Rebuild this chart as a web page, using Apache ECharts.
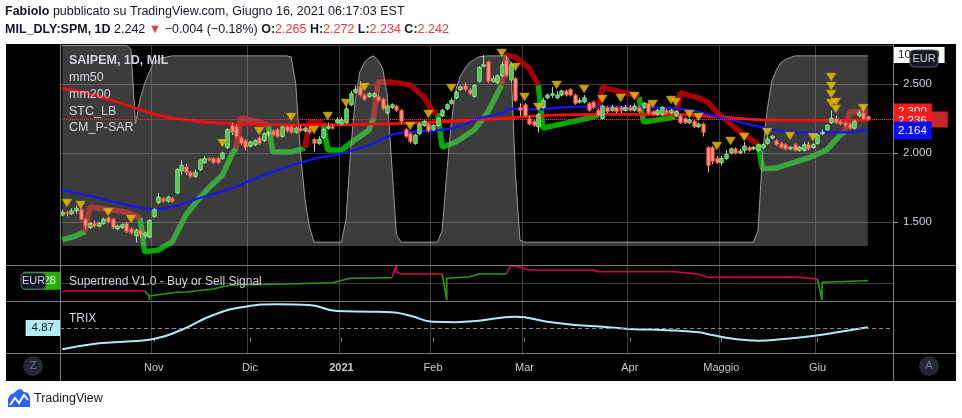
<!DOCTYPE html>
<html><head><meta charset="utf-8">
<script src="https://cdn.jsdelivr.net/npm/echarts@6/dist/echarts.min.js"></script>
<style>html,body{margin:0;padding:0;background:#fff;}#c{width:962px;height:418px;}</style>
</head><body><div id="c"></div>
<script>
// ---------- categories (trading days) ----------
const holidays = ['2020-12-24','2020-12-25','2020-12-31','2021-01-01','2021-04-02','2021-04-05'];
const firstDay = '2020-10-05', lastDay = '2021-06-23';
const monthNames = {'2020-11':'Nov','2020-12':'Dic','2021-01':'2021','2021-02':'Feb','2021-03':'Mar','2021-04':'Apr','2021-05':'Maggio','2021-06':'Giu'};

// ---------- OHLC [open, close, low, high] ----------
const octBars = [[1.55,1.57,1.54,1.59],[1.57,1.56,1.54,1.58],[1.56,1.58,1.55,1.60],[1.58,1.60,1.56,1.62],[1.59,1.52,1.51,1.61],
[1.52,1.47,1.45,1.53],[1.46,1.49,1.45,1.50],[1.49,1.47,1.46,1.51],[1.47,1.49,1.46,1.50],[1.49,1.52,1.48,1.53],
[1.53,1.50,1.49,1.54],[1.52,1.46,1.45,1.53],[1.45,1.47,1.44,1.48],[1.46,1.48,1.45,1.49],[1.49,1.43,1.42,1.50],
[1.45,1.42,1.41,1.46],[1.40,1.44,1.35,1.45],[1.44,1.41,1.39,1.45],[1.40,1.42,1.38,1.43],[1.39,1.51,1.38,1.52]];
const novBars = [[1.54,1.59,1.53,1.60],[1.64,1.68,1.63,1.71],[1.67,1.65,1.64,1.68],[1.65,1.68,1.64,1.69],[1.67,1.65,1.64,1.68],
[1.71,1.88,1.70,1.89],[1.87,1.91,1.84,1.95],[1.90,1.86,1.84,1.92],[1.86,1.83,1.82,1.87],[1.83,1.86,1.82,1.88],
[1.88,1.95,1.87,1.96],[1.93,1.96,1.92,1.98],[1.96,1.95,1.94,1.97],[1.96,1.93,1.92,1.97],[1.96,1.93,1.92,1.97],
[1.96,2.00,1.95,2.01],[2.04,2.17,2.03,2.18],[2.20,2.15,2.13,2.22],[2.19,2.12,2.11,2.21],[2.11,2.07,2.06,2.12],[2.09,2.04,2.02,2.10]];
const decBars = [[2.05,2.08,2.04,2.09],[2.06,2.09,2.05,2.10],[2.11,2.07,2.06,2.12],[2.09,2.14,2.08,2.15],[2.14,2.15,2.12,2.16],
[2.16,2.13,2.12,2.17],[2.17,2.12,2.11,2.18],[2.12,2.19,2.11,2.20],[2.19,2.16,2.15,2.20],[2.19,2.15,2.14,2.20],
[2.15,2.18,2.14,2.19],[2.18,2.16,2.15,2.20],[2.16,2.18,2.15,2.19],[2.17,2.15,2.14,2.19],[2.10,2.07,2.01,2.11],
[2.07,2.10,2.06,2.12],[2.11,2.17,2.10,2.18],[2.18,2.19,2.17,2.22],[2.19,2.18,2.17,2.21],[2.22,2.24,2.21,2.26]];
const janBars = [[2.21,2.24,2.20,2.26],[2.22,2.32,2.21,2.34],[2.35,2.43,2.34,2.45],[2.44,2.46,2.43,2.49],[2.48,2.42,2.41,2.52],
[2.42,2.39,2.38,2.43],[2.41,2.43,2.40,2.44],[2.41,2.43,2.40,2.44],[2.41,2.38,2.37,2.42],[2.39,2.32,2.31,2.40],
[2.29,2.34,2.28,2.35],[2.33,2.35,2.32,2.36],[2.34,2.31,2.30,2.35],[2.31,2.23,2.21,2.32],[2.17,2.12,2.11,2.18],
[2.14,2.08,2.07,2.15],[2.07,2.13,2.06,2.14],[2.14,2.21,2.13,2.22],[2.20,2.23,2.19,2.24],[2.21,2.16,2.15,2.22]];
const febBars = [[2.17,2.20,2.16,2.21],[2.20,2.25,2.19,2.26],[2.27,2.31,2.26,2.32],[2.32,2.35,2.31,2.36],[2.36,2.38,2.35,2.40],
[2.40,2.44,2.39,2.45],[2.46,2.48,2.45,2.49],[2.49,2.46,2.45,2.51],[2.46,2.43,2.42,2.47],[2.41,2.49,2.40,2.50],
[2.52,2.62,2.51,2.63],[2.63,2.64,2.62,2.71],[2.66,2.52,2.51,2.67],[2.52,2.54,2.51,2.56],[2.51,2.56,2.50,2.57],
[2.56,2.64,2.55,2.66],[2.67,2.56,2.55,2.70],[2.53,2.64,2.52,2.66],[2.54,2.38,2.37,2.55],[2.33,2.31,2.27,2.36]];
const marBars = [[2.35,2.27,2.26,2.36],[2.25,2.21,2.20,2.27],[2.23,2.20,2.19,2.24],[2.19,2.28,2.15,2.29],[2.33,2.38,2.32,2.40],
[2.40,2.42,2.39,2.43],[2.42,2.43,2.40,2.48],[2.40,2.42,2.39,2.45],[2.42,2.45,2.41,2.46],[2.45,2.42,2.41,2.46],
[2.46,2.42,2.41,2.47],[2.42,2.36,2.35,2.43],[2.37,2.38,2.36,2.40],[2.37,2.40,2.36,2.42],[2.36,2.31,2.30,2.37],
[2.37,2.33,2.32,2.38],[2.31,2.27,2.26,2.32],[2.25,2.34,2.24,2.35],[2.33,2.30,2.29,2.34],[2.31,2.33,2.30,2.35],
[2.33,2.30,2.29,2.34],[2.33,2.31,2.29,2.34],[2.31,2.33,2.30,2.35]];
const aprBars = [[2.33,2.31,2.30,2.35],[2.31,2.34,2.30,2.36],[2.33,2.30,2.29,2.34],[2.33,2.36,2.32,2.37],[2.36,2.29,2.28,2.37],
[2.30,2.28,2.27,2.31],[2.28,2.31,2.27,2.32],[2.28,2.33,2.27,2.34],[2.31,2.29,2.28,2.32],[2.29,2.31,2.28,2.32],
[2.27,2.30,2.26,2.31],[2.27,2.22,2.21,2.28],[2.25,2.22,2.21,2.26],[2.22,2.24,2.21,2.25],[2.23,2.19,2.18,2.24],
[2.19,2.21,2.18,2.22],[2.21,2.15,2.12,2.22],[2.04,1.91,1.86,2.05],[2.04,1.94,1.92,2.05],[1.96,1.93,1.92,1.98]];
const mayBars = [[1.93,1.96,1.91,1.98],[1.96,1.99,1.95,2.02],[2.00,2.03,1.99,2.04],[2.03,2.00,1.99,2.04],[2.008,2.012,1.99,2.03],
[2.02,2.05,2.00,2.08],[2.04,2.02,2.01,2.05],[2.03,2.04,2.02,2.05],[2.02,2.06,2.01,2.07],[2.04,2.06,2.03,2.07],
[2.07,2.10,2.06,2.12],[2.11,2.12,2.10,2.13],[2.09,2.06,2.05,2.10],[2.07,2.04,2.03,2.08],[2.06,2.03,2.02,2.07],
[2.03,2.04,2.02,2.05],[2.06,2.02,2.01,2.07],[2.02,2.04,2.01,2.05],[2.02,2.06,2.01,2.08],[2.06,2.03,2.02,2.08],[2.04,2.06,2.03,2.07]];
const junBars = [[2.07,2.13,2.06,2.14],[2.14,2.15,2.13,2.17],[2.17,2.20,2.16,2.21],[2.22,2.25,2.21,2.31],[2.25,2.22,2.21,2.27],
[2.23,2.21,2.20,2.24],[2.22,2.20,2.19,2.23],[2.21,2.18,2.17,2.22],[2.18,2.23,2.17,2.24],[2.27,2.29,2.26,2.31],
[2.29,2.246,2.24,2.31],[2.265,2.242,2.234,2.272]];

// ---------- overlays: [barIndex, value] ----------
const mm50 = [[0,1.732],[7,1.681],[14,1.623],[20,1.594],[24,1.609],[30,1.674],[36,1.732],[43,1.826],[54,1.949],[61,1.998],[67,2.058],[72,2.130],[74,2.147],[83,2.167],[87,2.196],[91,2.251],[96,2.288],[98,2.322],[100,2.317],[104,2.317],[109,2.331],[117,2.337],[128,2.331],[136,2.317],[139,2.299],[143,2.263],[147,2.232],[154,2.179],[161,2.147],[168,2.147],[176,2.164]];
const mm200 = [[0,2.469],[7,2.420],[14,2.348],[21,2.275],[29,2.232],[36,2.215],[43,2.208],[54,2.203],[74,2.215],[96,2.251],[107,2.275],[117,2.280],[132,2.280],[143,2.263],[154,2.239],[165,2.236],[176,2.236]];
const stcLB = [[0,105],[14,105],[15,103],[16,64],[17,77],[18,85],[19,91],[20,96],[21,97.5],[22,98.5],[24,99.5],[49,99.5],[50,99],[51,85],[52,50],[53,25],[54,10],[55,2],[61,2],[62,14],[63,50],[64,76],[65,91],[66,96],[67,98.5],[68,99.5],[69,97],[70,93],[71,79],[72,42],[73,6],[74,2],[82,2],[83,8],[84,38],[85,65],[86,82],[87,89],[88,93],[89,96],[90,97.5],[91,99],[93,99.5],[97,99.5],[98,96],[99,38],[100,3],[101,2],[151,2],[152,8],[153,48],[154,71],[155,86],[156,92],[157,96],[158,97.5],[159,98.5],[160,99.5],[176,99.5]];
const sarUp = [
 [[0,1.37],[3,1.40],[5,1.43]],
 [[17,1.53],[18,1.283],[21,1.297],[24,1.355],[27,1.551],[30,1.674],[32,1.746],[35,1.841],[37,1.986],[38,2.036]],
 [[45,2.203],[46,2.007],[50,2.007],[53,2.036]],
 [[57,2.217],[58,2.022],[61,2.022],[63,2.072],[67,2.167],[68,2.254]],
 [[82,2.29],[83,2.043],[86,2.08],[90,2.167],[93,2.297],[96,2.493]],
 [[104,2.493],[105,2.181],[110,2.217],[115,2.254],[117,2.275]],
 [[126,2.406],[127,2.225],[134,2.261]],
 [[152,2.065],[153,1.885],[156,1.891],[163,1.964],[167,2.022],[170,2.13],[171,2.152]]];
const sarDown = [
 [[5,1.43],[6,1.609],[10,1.59],[14,1.572],[17,1.53]],
 [[38,2.036],[39,2.254],[43,2.225],[45,2.203]],
 [[53,2.036],[54,2.225],[57,2.217]],
 [[68,2.254],[69,2.514],[72,2.514],[76,2.493],[79,2.406],[81,2.297],[82,2.29]],
 [[96,2.493],[97,2.71],[99,2.696],[102,2.616],[104,2.493]],
 [[117,2.275],[118,2.478],[125,2.42],[126,2.406]],
 [[134,2.261],[135,2.435],[139,2.399],[141,2.37],[143,2.297],[147,2.181],[150,2.109],[152,2.065]],
 [[171,2.152],[172,2.297],[176,2.300]]];
const signals = [[1,1.638],[4,1.623],[10,1.572],[15,1.522],[35,2.072],[43,2.159],[50,2.261],[55,2.167],[58,2.268],[62,2.362],[66,2.478],[76,2.196],[80,2.283],[85,2.471],[96,2.725],[99,2.623],[101,2.406],[104,2.333],[108,2.493],[114,2.464],[118,2.391],[122,2.399],[125,2.413],[129,2.355],[133,2.384],[134,2.37],[137,2.283],[139,2.261],[143,2.051],[146,2.087],[149,2.116],[154,2.152],[159,2.123],[164,2.116],[168,2.551],[168,2.486],[168,2.428],[168,2.362],[169,2.37],[169,2.319],[175,2.326]];
const stUp = [
 [[18,1.556],[19,1.278],[19,1.056],[19,1.278],[25,1.483],[27,1.50],[33,1.667],[35,1.794],[37,1.889],[49,1.944],[59,2.017],[62,2.206],[63,2.261],[72,2.294]],
 [[83,2.5],[84,1.056],[84,2.261],[89,2.35],[91,2.5],[97,2.5]],
 [[165,2.222],[166,1.056],[166,2.039],[176,2.128]]];
const stDown = [
 [[0,1.556],[18,1.556]],
 [[72,2.294],[73,2.98],[73,2.628],[74,2.5],[83,2.5]],
 [[97,2.5],[98,2.98],[98,2.906],[100,2.872],[102,2.722],[116,2.722],[117,2.628],[134,2.628],[139,2.483],[141,2.317],[160,2.333],[165,2.222]]];
const trix = [[0,-5.78],[8,-2.78],[14,-1.88],[20,-0.63],[26,3.87],[33,11.37],[40,15.52],[47,16.72],[54,16.37],[60,13.37],[67,13.02],[72,12.72],[76,11.0],[81,8.02],[86,7.8],[91,8.52],[99,10.52],[106,8.02],[112,6.37],[118,5.52],[124,4.37],[132,3.8],[139,2.72],[142,1.37],[147,-0.63],[152,-1.48],[157,-0.78],[164,0.87],[170,3.02],[176,5.3]];
const trixLevel = 4.87;

// ---------- build ----------
function tradingDays(a, b) {
  const out = []; const d = new Date(a + 'T12:00:00Z'); const end = new Date(b + 'T12:00:00Z');
  while (d <= end) { const wd = d.getUTCDay(); const s = d.toISOString().slice(0, 10);
    if (wd !== 0 && wd !== 6 && !holidays.includes(s)) out.push(s); d.setUTCDate(d.getUTCDate() + 1); }
  return out;
}
const cats = tradingDays(firstDay, lastDay);
const candles = [...octBars, ...novBars, ...decBars, ...janBars, ...febBars, ...marBars, ...aprBars, ...mayBars, ...junBars];
const monthStarts = new Set();
cats.forEach((d, i) => { if (i > 0 && d.slice(0,7) !== cats[i-1].slice(0,7) && monthNames[d.slice(0,7)]) monthStarts.add(i); });
const isM = (i) => monthStarts.has(i);
const FF = 'Liberation Sans';
const GRID = '#3f3f3f';
const HIDE = { color:'rgba(0,0,0,0)', width:0 };

function xAx(gi, lab) {
  return { type:'category', gridIndex:gi, data:cats, boundaryGap:true,
    axisLine:{show:false},
    axisTick:{show:lab, interval:isM, alignWithLabel:true, length:4, lineStyle:{color:'#8a8a8a'}},
    axisLabel:{show:lab, interval:isM, color:'#c8cad0', fontSize:11, fontFamily:FF, margin:9,
      formatter:(v)=>{ const m=v.slice(0,7); return m.endsWith('-01') ? '{y|'+monthNames[m]+'}' : monthNames[m]; },
      rich:{y:{fontWeight:'bold', color:'#c8cad0', fontSize:11, fontFamily:FF}}},
    splitLine:{show:true, interval:isM, lineStyle:{color:GRID, width:1}} };
}
function lineS(data, color, width, xi, yi, z, extra) {
  return Object.assign({ type:'line', data, xAxisIndex:xi, yAxisIndex:yi, showSymbol:false, symbol:'none',
    lineStyle:{color, width}, z, silent:true, animation:false }, extra || {});
}
const f3 = (p) => Number(p.value).toFixed(3);
const rLab = (bg, extraPad) => ({ show:true, position:'end', distance:0, formatter:f3, color:'#fff', backgroundColor:bg,
  padding:[2, 5 + (extraPad||0), 2, 5], fontSize:11.5, fontFamily:FF, lineHeight:12 });
const mk = (data) => ({ symbol:['none','none'], silent:true, animation:false, precision:3, data });

const series = [];
sarUp.forEach(seg => series.push(lineS(seg, '#00a800', 5.5, 0, 0, 2)));
sarDown.forEach((seg, k) => {
  const s = lineS(seg, '#a80000', 5.5, 0, 0, 2);
  if (k === sarDown.length - 1) {
    const last = candles[candles.length-1];
    s.markLine = mk([
      { yAxis: seg[seg.length-1][1], lineStyle:HIDE, label: rLab('#ff1a1a') },
      { yAxis: last[1], lineStyle:{type:'dotted', color:'#ff2a2a', width:1}, label: rLab('#c62828', 16) } ]);
  }
  series.push(s);
});
series.push(lineS(stcLB, '#9a9a9a', 1, 0, 1, 3, {
  areaStyle:{color:'rgba(160,160,160,0.53)'},
  markLine: mk([{yAxis:100, lineStyle:HIDE,
    label:{show:true, position:'end', distance:0, formatter:f3, color:'#131722', backgroundColor:'#ffffff', padding:[2,5,2,5], fontSize:11.5, fontFamily:FF, lineHeight:12}}]) }));
series.push(lineS(mm200, '#ff0a0a', 2.8, 0, 0, 4, { smooth:true,
  markLine: mk([{yAxis: mm200[mm200.length-1][1], lineStyle:HIDE, label: rLab('#ff1a1a')}]) }));
series.push(lineS(mm50, '#1414ff', 2.2, 0, 0, 4, { smooth:true,
  markLine: mk([{yAxis: mm50[mm50.length-1][1], lineStyle:HIDE, label: Object.assign(rLab('#0a0aff'), {padding:[3,5,3,5]})}]) }));
series.push({ type:'custom', xAxisIndex:0, yAxisIndex:0, z:5, silent:true, animation:false,
  data: candles.map((c, i) => [i, c[0], c[1], c[2], c[3]]),
  encode:{x:0, y:[1,2,3,4]},
  renderItem:(params, api) => {
    const i = api.value(0), o = api.value(1), c = api.value(2), l = api.value(3), h = api.value(4);
    const pO = api.coord([i, o]), pC = api.coord([i, c]), pL = api.coord([i, l]), pH = api.coord([i, h]);
    const w = 3.4; const up = c >= o;
    const x = Math.round(pO[0]);
    const top = Math.min(pO[1], pC[1]), bot = Math.max(pO[1], pC[1]);
    return { type:'group', children:[
      { type:'line', shape:{x1:x+0.5, y1:pH[1], x2:x+0.5, y2:pL[1]}, style:{stroke:'#c8c8c8', lineWidth:1} },
      { type:'rect', shape:{x:x+0.5-w/2, y:top, width:w, height:Math.max(bot-top, 1.5)},
        style:{fill: up ? '#46c646' : '#f6a08a', stroke: up ? '#8be68b' : '#ff3a2a', lineWidth:1} } ] };
  } });
series.push({ type:'scatter', xAxisIndex:0, yAxisIndex:0, data:signals, symbol:'triangle', symbolRotate:180,
  symbolSize:[10,8], itemStyle:{color:'#f5c400', borderColor:'#a88600', borderWidth:0.5}, z:6, silent:true, animation:false });
stDown.forEach(seg => series.push(lineS(seg, '#d6004b', 1.6, 1, 2, 2)));
stUp.forEach((seg, k) => {
  const s = lineS(seg, '#2aa000', 1.6, 1, 2, 2);
  if (k === stUp.length - 1) s.markLine = mk([{ yAxis: seg[seg.length-1][1], lineStyle:HIDE,
    label:{show:true, position:'start', distance:0, formatter:f3, color:'#fff', backgroundColor:'#22b000', padding:[3,4,3,4], fontSize:11.5, fontFamily:FF, lineHeight:12}}]);
  series.push(s);
});
series.push(lineS(trix, '#b2ebf2', 2, 2, 3, 3, { smooth:true,
  markLine: mk([{yAxis: trixLevel, lineStyle:{type:[4,3], color:'#8a8a8a', width:1},
    label:{show:true, position:'start', distance:0, formatter:(p)=>Number(p.value).toFixed(2), color:'#131722', backgroundColor:'#b2ebf2', padding:[2,6,2,6], fontSize:11.5, fontFamily:FF, lineHeight:12}}]) }));

// header (from data)
const lastC = candles[candles.length-1], prevC = candles[candles.length-2];
const chg = lastC[1] - prevC[1], pct = chg / prevC[1] * 100;
const sgn = (v, d) => (v < 0 ? '\u2212' : '+') + Math.abs(v).toFixed(d);
const hdr2 = '{b|MIL_DLY:SPM, 1D} ' + lastC[1].toFixed(3) + ' {r|\u25BC} ' + sgn(chg,3) + ' (' + sgn(pct,2) + '%) {b|O:}{r|' + lastC[0].toFixed(3) +
  '} {b|H:}{r|' + lastC[3].toFixed(3) + '} {b|L:}{r|' + lastC[2].toFixed(3) + '} {b|C:}{r|' + lastC[1].toFixed(3) + '}';
const hdrRich = { b:{fontWeight:'bold', fontSize:12.5, color:'#131722', fontFamily:FF}, r:{fontSize:12.5, color:'#f23645', fontFamily:FF} };

const sepC = '#7c7c7c';
const txt = (t, x, y, font, fill, z) => ({ type:'text', z: z||100, style:{ text:t, x, y, font, fill: fill||'#d1d4dc', verticalAlign:'middle' } });
const hline = (y) => ({ type:'line', z:50, shape:{x1:6, y1:y+0.5, x2:956, y2:y+0.5}, style:{stroke:sepC, lineWidth:1} });
const vline = (x) => ({ type:'line', z:50, shape:{x1:x+0.5, y1:44, x2:x+0.5, y2:381}, style:{stroke:sepC, lineWidth:1} });
const badge = (x, y, w, h, t) => ([
  { type:'rect', z:120, shape:{x, y, width:w, height:h, r:4}, style:{fill:'#131722', stroke:'#5a5d68', lineWidth:1} },
  { type:'text', z:121, style:{text:t, x:x+w/2, y:y+h/2, align:'center', verticalAlign:'middle', font:'11px "Liberation Sans"', fill:'#d1d4dc'} } ]);
const btn = (cx, cy, t) => ([
  { type:'circle', z:120, shape:{cx, cy, r:10}, style:{fill:'#26282f'} },
  { type:'text', z:121, style:{text:t, x:cx, y:cy, align:'center', verticalAlign:'middle', font:'11px "Liberation Sans"', fill:'#787b86'} } ]);

const option = {
  animation:false, backgroundColor:'#ffffff',
  title:[
    { left:5, top:5, padding:0, text:'{b|Fabiolo} pubblicato su TradingView.com, Giugno 16, 2021 06:17:03 EST',
      textStyle:{fontSize:12.5, fontWeight:'normal', color:'#131722', fontFamily:FF, rich:hdrRich} },
    { left:5, top:23, padding:0, text:hdr2, textStyle:{fontSize:12.5, fontWeight:'normal', color:'#131722', fontFamily:FF, rich:hdrRich} } ],
  grid:[ {left:60, right:69, top:45, height:220}, {left:60, right:69, top:265, height:36}, {left:60, right:69, top:301, height:52} ],
  xAxis:[ xAx(0,false), xAx(1,false), xAx(2,true) ],
  yAxis:[
    { type:'value', gridIndex:0, position:'right', min:1.188, max:2.783, splitNumber:3,
      axisLine:{show:false}, axisTick:{show:true, length:5, lineStyle:{color:'#9a9a9a'}},
      axisLabel:{color:'#d1d4dc', fontSize:11.5, fontFamily:FF, margin:10, showMinLabel:false, showMaxLabel:false, formatter:(v)=>v.toFixed(3)},
      splitLine:{lineStyle:{color:GRID}} },
    { type:'value', gridIndex:0, min:-9.95, max:105.2, show:false, splitLine:{show:false} },
    { type:'value', gridIndex:1, position:'right', min:1, max:3, interval:1, axisLine:{show:false}, axisTick:{show:false}, axisLabel:{show:false}, splitLine:{lineStyle:{color:GRID}} },
    { type:'value', gridIndex:2, position:'right', min:-7.63, max:18.37, show:false, splitLine:{show:false} } ],
  series,
  graphic:[
    { type:'rect', z:-100, shape:{x:6, y:44, width:950, height:337}, style:{fill:'#000'} },
    hline(265), hline(301), hline(353), vline(60), vline(893),
    txt('SAIPEM, 1D, MIL', 69, 61, 'bold 12.5px "Liberation Sans"'),
    txt('mm50', 69, 78, '12.5px "Liberation Sans"'),
    txt('mm200', 69, 95, '12.5px "Liberation Sans"'),
    txt('STC_LB', 69, 112, '12.5px "Liberation Sans"'),
    txt('CM_P-SAR', 69, 128, '12.5px "Liberation Sans"'),
    txt('Supertrend V1.0 - Buy or Sell Signal', 69, 282, '12px "Liberation Sans"'),
    txt('TRIX', 69, 319, '12px "Liberation Sans"'),
    ...badge(910, 50, 28, 17, 'EUR'), ...badge(21, 273, 25, 16, 'EUR'),
    ...btn(33, 366, 'Z'), ...btn(929, 366, 'A'),
    { type:'polygon', z:100, shape:{points:[[8,407],[8,399],[10,395],[14,393],[17,390],[21,389],[24,392],[28,393],[30,397],[30,407]]}, style:{fill:'#2962ff'} },
    { type:'polyline', z:101, shape:{points:[[10,405],[15,398],[19,403],[24,395],[28,400]]}, style:{stroke:'#ffffff', lineWidth:2, fill:null} },
    txt('TradingView', 34, 399, '12.5px "Liberation Sans"', '#131722') ]
};
const chart = echarts.init(document.getElementById('c'));
chart.setOption(option);
</script></body></html>
